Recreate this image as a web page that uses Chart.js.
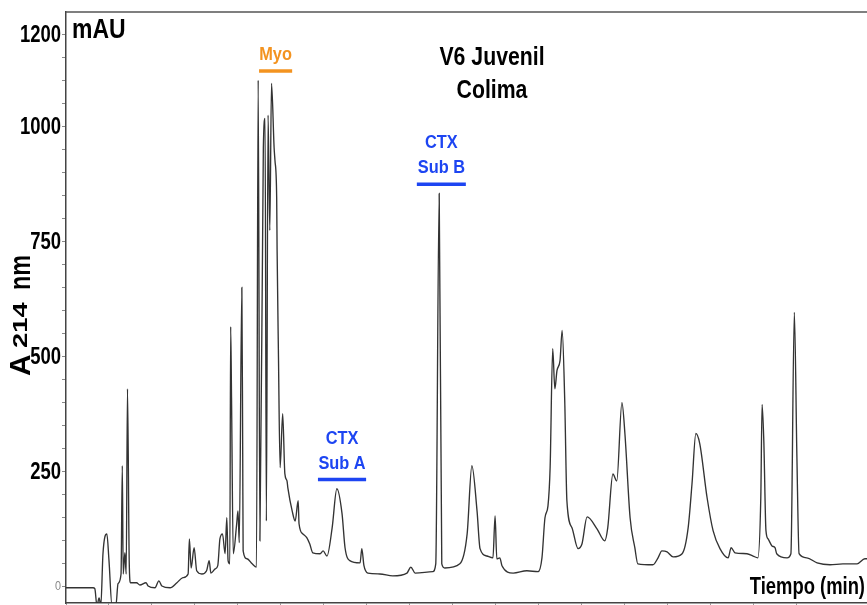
<!DOCTYPE html>
<html>
<head>
<meta charset="utf-8">
<script src="https://cdn.jsdelivr.net/npm/chart.js@4.4.1/dist/chart.umd.min.js"></script>
<style>
  html, body { margin: 0; padding: 0; background: #fff; }
  canvas { display: block; }
</style>
</head>
<body>
<canvas id="myChart" width="867" height="605"></canvas>
<script>
// retention time (min) and absorbance at 214 nm (mAU)
const tiempo = [0, 0.63, 0.67, 0.72, 0.77, 0.81, 0.86, 0.95, 1.00, 1.07,
  1.16, 1.21, 1.28, 1.31, 1.33, 1.37, 1.40, 1.43, 1.47, 1.50,
  1.64, 1.72, 1.86, 1.91, 2.07, 2.16, 2.23, 2.42, 2.58, 2.72,
  2.84, 2.87, 2.91, 2.98, 3.04, 3.16, 3.27, 3.33, 3.37, 3.47,
  3.53, 3.58, 3.64, 3.70, 3.74, 3.77, 3.81, 3.83, 3.85, 3.89,
  3.97, 4.00, 4.03, 4.09, 4.11, 4.12, 4.21, 4.33, 4.43, 4.47,
  4.51, 4.59, 4.63, 4.66, 4.70, 4.74, 4.78, 4.84, 4.86, 4.90,
  4.91, 4.94, 4.98, 5.04, 5.09, 5.14, 5.16, 5.26, 5.33, 5.40,
  5.42, 5.51, 5.60, 5.67, 5.74, 5.91, 5.98, 6.07, 6.19, 6.30,
  6.42, 6.49, 6.60, 6.84, 6.88, 6.93, 7.02, 7.30, 7.60, 7.93,
  8.02, 8.12, 8.53, 8.60, 8.68, 8.74, 8.81, 9.16, 9.33, 9.44,
  9.56, 9.63, 9.79, 9.93, 9.98, 10.02, 10.09, 10.14, 10.40, 10.72,
  10.98, 11.07, 11.14, 11.21, 11.26, 11.32, 11.37, 11.42, 11.49, 11.54,
  11.60, 11.65, 11.77, 11.91, 12.00, 12.12, 12.35, 12.53, 12.60, 12.72,
  12.81, 12.93, 13.00, 13.12, 13.23, 13.30, 13.65, 13.77, 13.86, 13.98,
  14.12, 14.33, 14.47, 14.56, 14.65, 14.74, 14.91, 15.05, 15.21, 15.40,
  15.47, 15.56, 15.84, 15.98, 16.09, 16.16, 16.19, 16.23, 16.28, 16.33,
  16.42, 16.49, 16.53, 16.77, 16.86, 16.94, 17.00, 17.05, 17.23, 17.47,
  17.77, 18.07, 18.40, 18.58, 18.63];

const absorbancia = [-2, -2, -4, -41, -24, -41, 72, 115, 57, -41,
  -41, 7, 28, 263, 28, 74, 28, 430, 57, 9,
  9, 4, 9, 2, -2, 13, 2, -2, 9, 20,
  28, 104, 41, 85, 35, 28, 35, 57, 30, 39,
  46, 104, 115, 72, 150, 57, 50, 565, 411, 72,
  137, 165, 96, 650, 289, 78, 61, 50, 43, 1100,
  100, 954, 1017, 143, 1024, 774, 1093, 954, 926, 846,
  730, 513, 259, 376, 246, 230, 215, 165, 143, 187,
  137, 115, 107, 93, 74, 72, 78, 67, 128, 213,
  159, 85, 57, 52, 83, 46, 30, 28, 24, 30,
  43, 30, 33, 50, 854, 50, 41, 50, 115, 263,
  165, 83, 67, 63, 154, 61, 63, 46, 30, 35,
  33, 63, 150, 176, 259, 517, 430, 470, 491, 557,
  404, 187, 128, 83, 93, 152, 126, 100, 128, 245,
  230, 400, 332, 150, 85, 50, 48, 63, 78, 76,
  65, 72, 128, 224, 333, 311, 194, 122, 83, 63,
  85, 74, 72, 67, 63, 194, 396, 317, 122, 104,
  89, 85, 72, 63, 72, 596, 280, 72, 63, 52,
  48, 50, 50, 61, 61];

const yTickLabels = [0, 250, 500, 750, 1000, 1200];

// fractions marked above the trace: time window and level of the bar
const fracNombres = [["Myo"], ["CTX", "Sub A"], ["CTX", "Sub B"]];
const fracInicio = [4.49, 5.86, 8.16];
const fracFin = [5.26, 6.98, 9.30];
const fracNivel = [1120, 233, 874];
const fracColor = ["#f39320", "#1d45f2", "#1d45f2"];

const FONT = "'Liberation Sans', Arial, sans-serif";

const puntos = tiempo.map((t, i) => ({ x: t, y: absorbancia[i] }));

// condensed bold lettering: squeeze the glyphs horizontally (and vertically if asked)
function texto(ctx, str, x, y, size, align, sx, color, weight, sy) {
  ctx.save();
  ctx.font = (weight || "bold") + " " + size + "px " + FONT;
  ctx.fillStyle = color || "#000";
  ctx.textAlign = align;
  ctx.translate(x, y);
  ctx.scale(sx, sy || 1);
  ctx.fillText(str, 0, 0);
  ctx.restore();
}

const decoraciones = {
  id: "decoraciones",
  afterDraw(chart) {
    const ctx = chart.ctx;
    const area = chart.chartArea;
    const xs = chart.scales.x;
    const ys = chart.scales.y;
    ctx.save();

    // top frame line
    ctx.strokeStyle = "#555";
    ctx.lineWidth = 1.5;
    ctx.beginPath();
    ctx.moveTo(area.left, area.top);
    ctx.lineTo(area.right, area.top);
    ctx.stroke();

    // y tick labels
    ctx.textBaseline = "middle";
    yTickLabels.forEach((v) => {
      const py = ys.getPixelForValue(v);
      if (v === 0) texto(ctx, "0", area.left - 5, py, 12, "right", 0.9, "#888", "normal");
      else texto(ctx, String(v), area.left - 5, py + 1, 24, "right", 0.77, "#000");
    });

    ctx.textBaseline = "alphabetic";
    texto(ctx, "mAU", area.left + 6, 38, 28, "left", 0.82);
    texto(ctx, "Tiempo (min)", area.right - 2, 594, 23, "right", 0.8);
    texto(ctx, "V6 Juvenil", 492, 65, 25, "center", 0.85);
    texto(ctx, "Colima", 492, 98, 25, "center", 0.85);

    // fraction bars and names
    fracNombres.forEach((lineas, i) => {
      const x0 = xs.getPixelForValue(fracInicio[i]);
      const x1 = xs.getPixelForValue(fracFin[i]);
      const yb = ys.getPixelForValue(fracNivel[i]);
      ctx.strokeStyle = fracColor[i];
      ctx.lineWidth = 3.5;
      ctx.beginPath();
      ctx.moveTo(x0, yb);
      ctx.lineTo(x1, yb);
      ctx.stroke();
      const cx = (x0 + x1) / 2;
      for (let k = 0; k < lineas.length; k++) {
        const fromBottom = lineas.length - 1 - k;
        texto(ctx, lineas[k], cx, yb - 11 - fromBottom * 25, 19, "center", 0.86, fracColor[i]);
      }
    });

    // y axis title: A214 nm, rotated
    ctx.translate(30, 376);
    ctx.rotate(-Math.PI / 2);
    texto(ctx, "A", 0, 0, 30, "left", 1);
    texto(ctx, "214", 28, -3, 28, "left", 0.98, "#000", "bold", 0.72);
    texto(ctx, "nm", 86, 0, 30, "left", 0.78);

    ctx.restore();
  }
};

const chart = new Chart(document.getElementById("myChart").getContext("2d"), {
  type: "line",
  data: {
    datasets: [{
      data: puntos,
      borderColor: "#333",
      borderWidth: 1.35,
      pointRadius: 0,
      cubicInterpolationMode: "monotone",
      fill: false
    }]
  },
  options: {
    responsive: false,
    animation: false,
    devicePixelRatio: 1,
    layout: { padding: { top: 12, right: 0, bottom: 0, left: 0 } },
    plugins: { legend: { display: false }, tooltip: { enabled: false } },
    scales: {
      x: {
        type: "linear",
        min: 0,
        max: 18.63,
        ticks: { display: false, stepSize: 1 },
        grid: { display: true, drawOnChartArea: false, tickLength: 3, color: "#999" },
        border: { color: "#444", width: 1.5 },
        afterFit(s) { s.height = 2; s.paddingLeft = 0; s.paddingRight = 0; }
      },
      y: {
        min: -35,
        max: 1248,
        afterBuildTicks(s) {
          const t = [];
          for (let v = 0; v <= 1200; v += 50) t.push({ value: v });
          s.ticks = t;
        },
        ticks: {
          autoSkip: false,
          padding: 2,
          // labels are lettered by the decoraciones plugin
          callback: () => ""
        },
        grid: { display: true, drawOnChartArea: false, tickLength: 4, color: "#888" },
        border: { color: "#444", width: 1.5 },
        afterFit(s) { s.width = 66; s.paddingTop = 0; s.paddingBottom = 0; }
      }
    }
  },
  plugins: [decoraciones]
});
</script>
</body>
</html>
